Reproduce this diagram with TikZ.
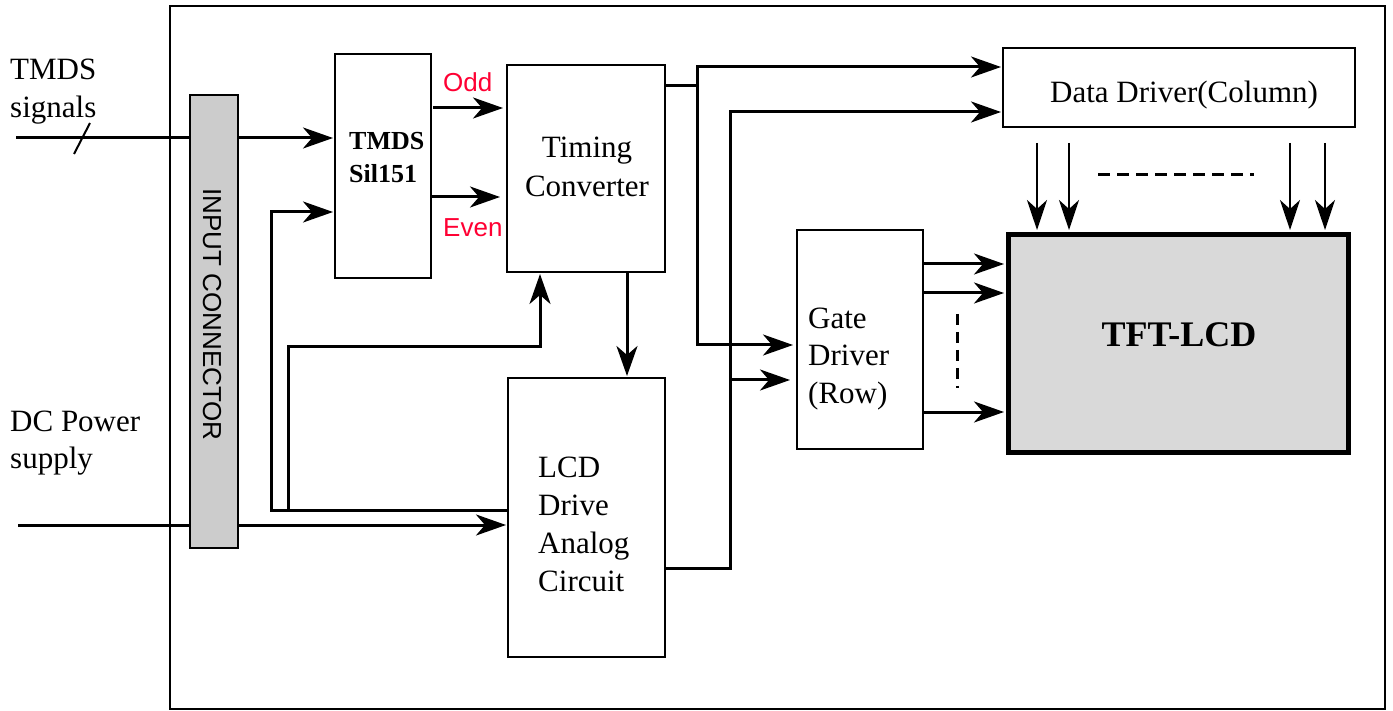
\documentclass[tikz,border=0pt]{standalone}
\usepackage{fontspec}
\setmainfont{Liberation Serif}
\setsansfont{Liberation Sans}
\usetikzlibrary{arrows.meta}
\definecolor{conngray}{HTML}{CCCCCC}
\definecolor{tftgray}{HTML}{D9D9D9}
\definecolor{labelred}{HTML}{FF0033}
\begin{document}
\begin{tikzpicture}[x=1pt,y=-1pt,
  box/.style={draw, line width=2.5pt, inner sep=0pt, outer sep=0pt},
  arr/.style={line width=3pt, -{Stealth[length=30pt,width=21pt,inset=9pt]}, shorten >=2pt},
  darr/.style={line width=2.5pt, -{Stealth[length=30pt,width=20pt,inset=9pt]}},
  wire/.style={line width=3pt},
  txt/.style={font=\fontsize{31}{38}\selectfont, inner sep=0pt, align=left},
  redlbl/.style={font=\sffamily\fontsize{26}{30}\selectfont, text=labelred, inner sep=0pt},
  dots/.style={line width=3pt, dash pattern=on 11pt off 7pt}
]
\useasboundingbox (0,0) rectangle (1393,711);

% outer frame
\node[draw, line width=2pt, inner sep=0pt, minimum width=1215pt, minimum height=703pt] (frame) at (777.5,357.5) {};

% blocks
\node[box, minimum width=96pt, minimum height=224pt] (tmds) at (383,166) {};
\node[box, minimum width=158pt, minimum height=207pt] (timing) at (586,168.5) {};
\node[box, minimum width=157pt, minimum height=279pt] (lcdd) at (586.5,517.5) {};
\node[box, minimum width=126pt, minimum height=219pt] (gate) at (860,339.5) {};
\node[box, minimum width=352pt, minimum height=79pt] (data) at (1179,87.5) {};
\node[draw, line width=5pt, fill=tftgray, inner sep=0pt, outer sep=0pt, minimum width=340pt, minimum height=217pt] (tft) at (1178,343.5) {};

% external inputs (pass under the connector)
\coordinate (tin) at (16,138);
\coordinate (din) at (18,525);
\draw[arr] (tin) -- (tin -| tmds.west);
\draw[arr] (din) -- (din -| lcdd.west);
\draw[line width=2pt] (90,123) -- (74,154);

% input connector
\node[box, fill=conngray, minimum width=48pt, minimum height=453pt] (conn) at (214,321.5) {};
\node[font=\sffamily\fontsize{26}{30}\selectfont, rotate=-90, inner sep=0pt] (connlbl) at (212,314.5) {INPUT CONNECTOR};

% feed lines from the connector side
\coordinate (ys) at (0,212);
\coordinate (j1) at (271,510);
\coordinate (j2) at (288,510);
\coordinate (j3) at (540,347);
\draw[arr] (lcdd.west |- j1) -- (j1) |- (tmds.west |- ys);
\draw[arr] (j2) |- (j3) -- (timing.south -| j3);

% odd / even
\coordinate (yodd) at (0,108);
\coordinate (yeven) at (0,197);
\draw[arr, shorten <=2pt, shorten >=4pt] (tmds.east |- yodd) -- (timing.west |- yodd);
\draw[arr, shorten >=7pt] (tmds.east |- yeven) -- (timing.west |- yeven);

% timing -> analog
\coordinate (xt) at (627,0);
\draw[arr] (timing.south -| xt) -- (lcdd.north -| xt);

% timing -> data / gate
\coordinate (v1m) at (697,86);
\coordinate (v1t) at (697,67);
\coordinate (v1b) at (697,345);
\draw[wire] (timing.east |- v1m) -- (v1m);
\draw[line width=3pt, {Stealth[length=30pt,width=21pt,inset=9pt]}-{Stealth[length=30pt,width=21pt,inset=9pt]}, shorten <=2pt, shorten >=4pt]
  (data.west |- v1t) -- (v1t) -- (v1b) -- (gate.west |- v1b);

% analog -> data / gate
\coordinate (v2b) at (730,568);
\coordinate (v2t) at (730,112);
\coordinate (v2g) at (730,380);
\draw[arr] (lcdd.east |- v2b) -- (v2b) -- (v2t) -- (data.west |- v2t);
\draw[arr, shorten >=7pt] (v2g) -- (gate.west |- v2g);

% gate -> tft
\coordinate (g1) at (0,264);
\coordinate (g2) at (0,293);
\coordinate (g3) at (0,412);
\draw[arr, shorten >=4pt] (gate.east |- g1) -- (tft.west |- g1);
\draw[arr, shorten >=4pt] (gate.east |- g2) -- (tft.west |- g2);
\draw[arr, shorten >=4pt] (gate.east |- g3) -- (tft.west |- g3);
\coordinate (gd1) at (957,314);
\coordinate (gd2) at (957,388);
\draw[dots] (gd1) -- (gd2);

% data -> tft
\foreach \xx [count=\i] in {1037,1069,1290,1325} {
  \coordinate (dx\i) at (\xx,0);
  \draw[darr, shorten <=16pt, shorten >=5pt] (data.south -| dx\i) -- (tft.north -| dx\i);
}
\coordinate (dd1) at (1098,175);
\coordinate (dd2) at (1254,175);
\draw[line width=3pt, dash pattern=on 12pt off 7pt] (dd1) -- (dd2);

% texts (base anchor = baseline of the last line)
\node[txt, anchor=base west] (tmdsin) at (10,118) {TMDS\\signals};
\node[font=\fontsize{31}{37}\selectfont, inner sep=0pt, align=left, anchor=base west] (dcin) at (10,468) {DC Power\\supply};
\node[font=\bfseries\fontsize{26}{33}\selectfont, inner sep=0pt, align=left, anchor=base west] (tmdslbl) at (349,183) {TMDS\\Sil151};
\node[redlbl, anchor=base west] (oddlbl) at (443,92) {Odd};
\node[redlbl, anchor=base west] (evenlbl) at (443,237) {Even};
\node[font=\fontsize{31}{39}\selectfont, inner sep=0pt, align=center, anchor=base] (timinglbl) at (587,197) {Timing\\Converter};
\node[txt, anchor=base west] (lcddlbl) at (538,591) {LCD\\Drive\\Analog\\Circuit};
\node[font=\fontsize{31}{37.5}\selectfont, inner sep=0pt, align=left, anchor=base west] (gatelbl) at (808,403) {Gate\\Driver\\(Row)};
\node[font=\fontsize{31}{38}\selectfont, inner sep=0pt, anchor=base west] (datalbl) at (1050,103) {Data Driver(Column)};
\node[font=\bfseries\fontsize{36}{40}\selectfont, inner sep=0pt, anchor=base] (tftlbl) at (1179,347) {TFT-LCD};
\end{tikzpicture}
\end{document}
